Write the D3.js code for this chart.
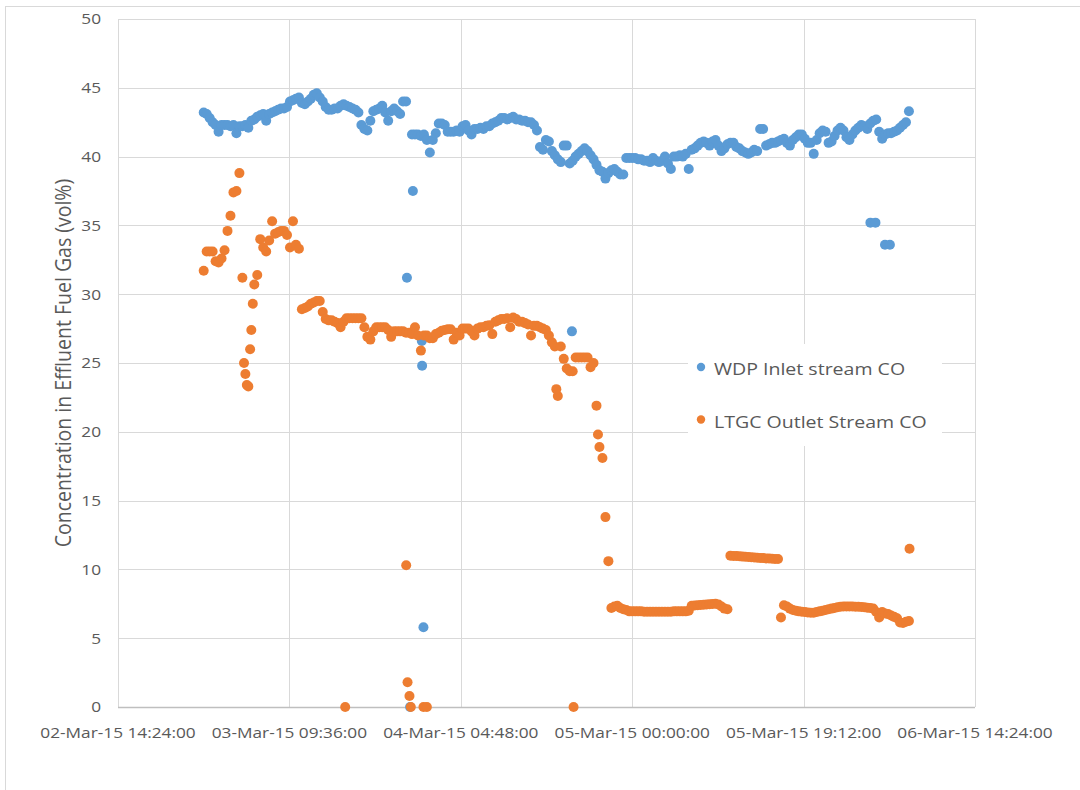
<!DOCTYPE html>
<html>
<head>
<meta charset="utf-8">
<script src="https://cdn.jsdelivr.net/npm/d3@7"></script>
<style>
  html, body { margin: 0; padding: 0; background: #fff; }
  svg text { font-family: "Open Sans", "Liberation Sans", sans-serif; fill: #595959; }
</style>
</head>
<body>
<svg id="chart" width="1080" height="790"></svg>
<script>
// Logger readings, one every 20 minutes from 03-Mar-15 00:00 (vol% CO)
const sampleStart = "2015-03-03 00:00";
const sampleMinutes = 20;

const inletCO = [
  43.2, 43.1, 42.8, 42.5, 42.3, 41.8, 42.3, 42.3, 42.3, 42.2,
  42.3, 41.7, 42.2, 42.2, 42.3, 42.1, 42.6, 42.7, 42.9, 43.0,
  43.1, 42.6, 43.1, 43.2, 43.3, 43.4, 43.5, 43.5, 43.6, 44.0,
  44.1, 44.2, 44.3, 43.9, 43.8, 44.0, 44.2, 44.5, 44.6, 44.3,
  44.0, 43.6, 43.4, 43.4, 43.5, 43.5, 43.7, 43.8, 43.7, 43.6,
  43.5, 43.4, 43.2, 42.3, 42.0, 41.9, 42.6, 43.3, 43.4, 43.5,
  43.7, 43.2, 42.6, 43.3, 43.5, 43.3, 43.1, 44.0, 44.0, null,
  41.6, 41.6, 41.6, 41.5, 41.6, 41.2, 40.3, 41.2, 41.7, 42.4,
  42.4, 42.3, 41.8, 41.8, 41.8, 41.9, 41.8, 42.2, 42.3, 41.9,
  41.6, 42.0, 42.0, 42.1, 42.0, 42.2, 42.2, 42.4, 42.5, 42.6,
  42.8, 42.8, 42.7, 42.8, 42.9, 42.7, 42.7, 42.6, 42.6, 42.5,
  42.5, 42.3, 41.9, 40.7, 40.5, 41.2, 41.1, 40.4, 40.1, 39.8,
  39.6, 40.8, 40.8, 39.5, 39.7, 40.0, 40.2, 40.4, 40.6, 40.4,
  40.1, 39.8, 39.4, 39.0, 38.9, 38.4, 38.8, 39.0, 39.1, 38.9,
  38.7, 38.7, 39.9, 39.9, 39.9, 39.9, 39.8, 39.8, 39.7, 39.7,
  39.6, 39.9, 39.7, 39.6, 39.7, 40.0, 39.5, 39.1, 40.0, 40.0,
  40.1, 40.0, 40.2, 39.1, 40.5, 40.6, 40.8, 41.0, 41.1, 41.0,
  40.8, 41.1, 41.2, 40.8, 40.4, 40.6, 40.9, 41.0, 41.0, 40.7,
  40.6, 40.4, 40.3, 40.2, 40.3, 40.5, 40.4, 42.0, 42.0, 40.8,
  40.9, 41.0, 41.0, 41.1, 41.2, 41.3, 41.0, 40.8, 41.2, 41.4,
  41.6, 41.6, 41.3, 41.0, 41.0, 40.2, 41.2, 41.7, 41.9, 41.8,
  41.0, 41.1, 41.5, 41.9, 42.1, 41.9, 41.4, 41.2, 41.6, 41.9,
  42.1, 42.3, 42.2, 42.0, 42.4, 42.6, 42.7, 41.8, 41.3, 41.6,
  41.7, 41.7, 41.8, 41.9, 42.1, 42.3, 42.5, 43.3
];

const outletCO = [
  31.7, 33.1, 33.1, 33.1, 32.4, 32.3, 32.6, 33.2, 34.6, 35.7,
  37.4, 37.5, 38.8, 31.2, 24.2, 23.3, 27.4, 30.7, 31.4, 34.0,
  33.4, 33.1, 33.9, 35.3, 34.4, 34.5, 34.6, 34.6, 34.3, 33.4,
  35.3, 33.6, 33.3, 28.9, 29.0, 29.1, 29.3, 29.4, 29.5, 29.5,
  28.7, 28.2, 28.1, 28.1, 28.0, 27.9, 27.6, 28.0, 28.25, 28.25,
  28.25, 28.25, 28.25, 28.25, 27.6, 26.9, 26.7, 27.3, 27.6, 27.6,
  27.6, 27.6, 27.4, 26.9, 27.3, 27.3, 27.3, 27.3, 27.2, 27.2,
  27.1, 27.6, 27.0, 25.9, 27.0, 27.0, 26.8, 26.8, 27.1, 27.2,
  27.35, 27.4, 27.45, 27.45, 26.7, 27.2, 27.0, 27.5, 27.5, 27.5,
  27.3, 27.0, 27.5, 27.6, 27.6, 27.7, 27.75, 27.1, 28.0, 28.1,
  28.2, 28.2, 28.25, 27.6, 28.3, 28.2, 28.0, 28.0, 27.9, 27.8,
  27.0, 27.7, 27.7, 27.6, 27.5, 27.4, 27.0, 26.5, 26.2, 22.6,
  26.2, 25.3, 24.6, 24.4, 24.4, 25.4, 25.4, 25.4, 25.4, 25.4,
  24.7, 25.0, 21.9, 18.9, 18.1, 13.8, 10.6, 7.2, 7.3, 7.35,
  7.2, 7.1, 7.05, 6.95, 6.95, 6.95, 6.95, 6.95, 6.93, 6.93,
  6.93, 6.93, 6.93, 6.93, 6.93, 6.93, 6.93, 6.93, 6.95, 6.95,
  6.95, 6.95, 6.95, 7.0, 7.35, 7.38, 7.4, 7.42, 7.44, 7.45,
  7.47, 7.48, 7.5, 7.45, 7.3, 7.15, 7.1, 11.0, 10.98, 10.97,
  10.95, 10.93, 10.92, 10.9, 10.88, 10.87, 10.85, 10.83, 10.82, 10.8,
  10.79, 10.77, 10.76, 10.75, 6.5, 7.4, 7.3, 7.15, 7.05, 7.0,
  6.95, 6.92, 6.9, 6.87, 6.85, 6.85, 6.9, 6.95, 7.0, 7.05,
  7.1, 7.15, 7.2, 7.25, 7.28, 7.3, 7.3, 7.3, 7.3, 7.28,
  7.28, 7.27, 7.25, 7.22, 7.2, 7.15, 6.9, 6.5, 6.9, 6.8,
  6.75, 6.65, 6.55, 6.45, 6.15, 6.1, 6.2, 6.25
];

// Off-schedule readings (analyser upsets, zero readings)
const inletExtra = [
  ["2015-03-03 22:46", 31.2], ["2015-03-03 23:07", 0], ["2015-03-03 23:26", 37.5],
  ["2015-03-04 00:26", 26.6], ["2015-03-04 00:28", 24.8], ["2015-03-04 00:37", 5.8],
  ["2015-03-04 17:15", 27.3], ["2015-03-06 02:41", 35.2], ["2015-03-06 03:15", 35.2],
  ["2015-03-06 04:19", 33.6], ["2015-03-06 04:52", 33.6]
];
const outletExtra = [
  ["2015-03-03 04:31", 25.0], ["2015-03-03 04:50", 23.4], ["2015-03-03 05:12", 26.0],
  ["2015-03-03 05:30", 29.3], ["2015-03-03 15:51", 0], ["2015-03-03 22:41", 10.3],
  ["2015-03-03 22:50", 1.8], ["2015-03-03 23:03", 0.8], ["2015-03-03 23:12", 0],
  ["2015-03-04 00:37", 0], ["2015-03-04 01:00", 0], ["2015-03-04 15:30", 23.1],
  ["2015-03-04 17:26", 0], ["2015-03-04 20:10", 19.8], ["2015-03-06 07:04", 11.5]
];

const seriesNames = ["WDP Inlet stream CO", "LTGC Outlet Stream CO"];
const seriesColors = ["#5B9BD5", "#ED7D31"];
const xTicks = ["2015-03-02 14:24", "2015-03-03 09:36", "2015-03-04 04:48",
                "2015-03-05 00:00", "2015-03-05 19:12", "2015-03-06 14:24"];
const yTicks = [0, 5, 10, 15, 20, 25, 30, 35, 40, 45, 50];
const yTitle = "Concentration in Effluent Fuel Gas (vol%)";

const parse = d3.timeParse("%Y-%m-%d %H:%M");
const fmt = d3.timeFormat("%d-%b-%y %H:%M:%S");
const t0 = parse(sampleStart);

function toPoints(values, extra) {
  const pts = [];
  values.forEach((v, i) => {
    if (v !== null) pts.push({ t: d3.timeMinute.offset(t0, i * sampleMinutes), v });
  });
  extra.forEach(([s, v]) => pts.push({ t: parse(s), v }));
  return pts;
}
const series = [toPoints(inletCO, inletExtra), toPoints(outletCO, outletExtra)];

const svg = d3.select("#chart");
const W = 1080, H = 790;
const plot = { left: 118, right: 975, top: 19, bottom: 707 };
const sx = 1.15; // horizontal text stretch

const x = d3.scaleTime()
  .domain([parse(xTicks[0]), parse(xTicks[xTicks.length - 1])])
  .range([plot.left, plot.right]);
const y = d3.scaleLinear().domain([0, 50]).range([plot.bottom, plot.top]);

// chart frame
svg.append("rect").attr("x", 5.5).attr("y", 6.5).attr("width", W + 10).attr("height", H + 10)
  .attr("fill", "#fff").attr("stroke", "#D9D9D9");

// gridlines
const grid = svg.append("g");
grid.selectAll("line.h").data(yTicks.filter(d => d > 0)).join("line")
  .attr("x1", plot.left).attr("x2", plot.right)
  .attr("y1", d => Math.round(y(d)) + 0.5).attr("y2", d => Math.round(y(d)) + 0.5)
  .attr("stroke", "#D9D9D9").attr("stroke-width", 1);
grid.selectAll("line.v").data(xTicks).join("line")
  .attr("x1", d => Math.round(x(parse(d))) + 0.5).attr("x2", d => Math.round(x(parse(d))) + 0.5)
  .attr("y1", plot.top).attr("y2", plot.bottom)
  .attr("stroke", "#D9D9D9").attr("stroke-width", 1);

// x axis line
svg.append("line").attr("x1", plot.left).attr("x2", plot.right)
  .attr("y1", plot.bottom + 0.5).attr("y2", plot.bottom + 0.5)
  .attr("stroke", "#BFBFBF").attr("stroke-width", 1.3);

// tick labels
svg.append("g").selectAll("text").data(yTicks).join("text")
  .attr("transform", d => `translate(101,${y(d)}) scale(${sx},1)`)
  .attr("text-anchor", "end").attr("dy", "0.36em")
  .style("font-size", "15px").text(d => d);
svg.append("g").selectAll("text").data(xTicks).join("text")
  .attr("transform", d => `translate(${x(parse(d))},738) scale(${sx},1)`)
  .attr("text-anchor", "middle")
  .style("font-size", "15px").text(d => fmt(parse(d)));

// axis title
svg.append("text")
  .attr("transform", `translate(71,${(plot.top + plot.bottom) / 2}) scale(${sx},1) rotate(-90)`)
  .attr("text-anchor", "middle")
  .style("font-size", "19.5px").text(yTitle);

// markers
series.forEach((pts, k) => {
  svg.append("g").selectAll("circle").data(pts).join("circle")
    .attr("cx", d => x(d.t)).attr("cy", d => y(d.v)).attr("r", 5)
    .attr("fill", seriesColors[k]);
});

// legend
const lg = svg.append("g");
lg.append("rect").attr("x", 688).attr("y", 344).attr("width", 254).attr("height", 102).attr("fill", "#fff");
seriesNames.forEach((name, k) => {
  const cy = 367 + k * 52.5;
  lg.append("circle").attr("cx", 701).attr("cy", cy).attr("r", 4.2).attr("fill", seriesColors[k]);
  lg.append("text").attr("transform", `translate(714,${cy + 8}) scale(${sx},1)`)
    .style("font-size", "17px").text(name);
});
</script>
</body>
</html>
